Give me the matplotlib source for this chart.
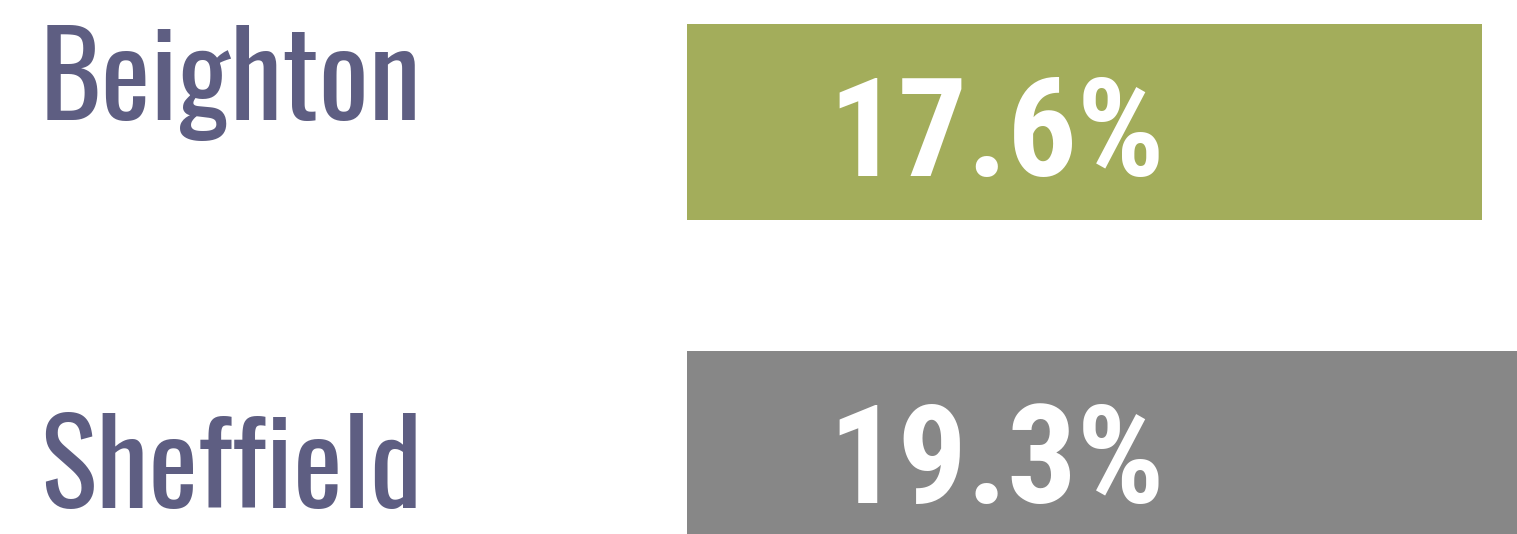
import matplotlib
matplotlib.use("Agg")
import matplotlib.pyplot as plt

# data
areas = ["Beighton", "Sheffield"]
values = [17.6, 19.3]
bar_colors = ["#a3ad5b", "#878787"]
label_color = "#5e5e82"

W, H, DPI = 1517, 534, 100
fig = plt.figure(figsize=(W / DPI, H / DPI), dpi=DPI)
ax = fig.add_axes([687 / W, 0, 1 - 687 / W, 1])

ypos = list(range(len(areas)))
ax.barh(ypos, values, height=0.6, color=bar_colors)

# ~45 px per percentage point, longer bar runs off the right edge
px_per_unit = 795 / values[0]
ax.set_xlim(0, (W - 687) / px_per_unit)
ax.set_ylim(-0.373 + H / 327, -0.373)
ax.axis("off")

# area names on the left, placed by baseline
label_y = [1 - 120 / H, 1 - 508 / H]
for name, y in zip(areas, label_y):
    fig.text(40 / W, y, name, color=label_color, fontsize=85,
             family=["Oswald", "DejaVu Sans"], va="baseline", ha="left")

# value labels inside the bars
for i, v in enumerate(values):
    ax.annotate(f"{v:.1f}%", xy=(0, i), xytext=(141 * 0.72, -54 * 0.72),
                textcoords="offset points", color="white", fontsize=99,
                fontweight="bold", family=["Roboto Condensed", "DejaVu Sans"],
                va="baseline", ha="left")

fig.savefig("out.png", dpi=DPI)
